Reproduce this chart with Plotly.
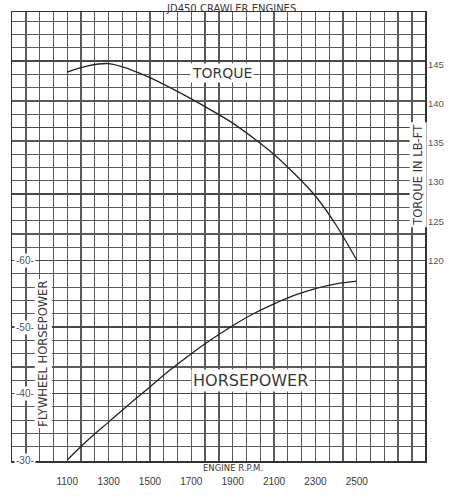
import plotly.graph_objects as go

# ---- data ----
rpm = [1100, 1200, 1300, 1400, 1500, 1600, 1700, 1800, 1900, 2000, 2100, 2200, 2300, 2400, 2500]
torque = [144.0, 144.8, 145.1, 144.4, 143.3, 142.0, 140.6, 139.1, 137.5, 135.6, 133.5, 131.0, 128.2, 124.5, 120.0]
horsepower = [30.0, 33.0, 35.7, 38.4, 41.0, 43.6, 46.0, 48.2, 50.2, 52.0, 53.5, 54.8, 55.8, 56.5, 56.9]

rpm_ticks = [1100, 1300, 1500, 1700, 1900, 2100, 2300, 2500]
hp_ticks = [30, 40, 50, 60]
torque_ticks = [120, 125, 130, 135, 140, 145]

title_text = "JD450 CRAWLER ENGINES"

ink = "#3a3a3a"
grid = "#5a5a5a"
font_family = "Liberation Sans, Arial, sans-serif"
wide_font = "DejaVu Sans, Verdana, sans-serif"

fig = go.Figure()

fig.add_trace(go.Scatter(
    x=rpm, y=horsepower, mode="lines", line=dict(color="#222", width=1.3, shape="spline"),
    yaxis="y", hoverinfo="skip", showlegend=False))
fig.add_trace(go.Scatter(
    x=rpm, y=torque, mode="lines", line=dict(color="#222", width=1.3, shape="spline"),
    yaxis="y2", hoverinfo="skip", showlegend=False))

fig.update_layout(
    width=452, height=497,
    margin=dict(l=12, r=27, t=10, b=24),
    paper_bgcolor="white", plot_bgcolor="white",
    font=dict(family=font_family, color=ink),
    xaxis=dict(
        range=[833, 2830], tickmode="array", tickvals=rpm_ticks,
        ticktext=[str(v) for v in rpm_ticks],
        tickfont=dict(size=10, color=ink), ticks="", ticklabelstandoff=10,
        showgrid=True, gridcolor=grid, gridwidth=1.3,
        minor=dict(tick0=1100, dtick=200 / 3, showgrid=True, gridcolor=grid, gridwidth=1.3),
        showline=True, linecolor="#333", linewidth=1.5, mirror=True, zeroline=False,
        fixedrange=True),
    yaxis=dict(
        range=[29.85, 97.4], tick0=30, dtick=10, showticklabels=False, ticks="",
        showgrid=True, gridcolor="#474747", gridwidth=1.6,
        minor=dict(tick0=30, dtick=2, showgrid=True, gridcolor=grid, gridwidth=1.2),
        showline=True, linecolor="#333", linewidth=1.5, mirror=True, zeroline=False,
        fixedrange=True),
    yaxis2=dict(
        range=[94.38, 151.68], overlaying="y", side="right",
        showticklabels=False, ticks="",
        showgrid=False, zeroline=False, fixedrange=True),
)

ann = []
# title at the very top
ann.append(dict(text=title_text, xref="paper", yref="paper", x=0.53, y=1, yanchor="top",
                yshift=11, showarrow=False, font=dict(size=10, color=ink, family=wide_font)))
# curve labels
ann.append(dict(text="TORQUE", xref="x", yref="y", x=1850, y=88.2, showarrow=False,
                bgcolor="white", font=dict(size=14, color=ink, family=wide_font)))
ann.append(dict(text="HORSEPOWER", xref="x", yref="y", x=1985, y=42.0, showarrow=False,
                bgcolor="white", font=dict(size=16, color=ink, family=wide_font)))
# axis titles
ann.append(dict(text="FLYWHEEL HORSEPOWER", xref="paper", yref="y", x=0.075, y=46.0,
                xanchor="center", textangle=-90, showarrow=False, bgcolor="white",
                font=dict(size=11.5, color=ink, family=wide_font)))
ann.append(dict(text="TORQUE IN LB-FT", xref="paper", yref="y2", x=0.983, y=130.9,
                xanchor="center", textangle=-90, showarrow=False, bgcolor="white",
                font=dict(size=11.5, color=ink, family=wide_font)))
ann.append(dict(text="ENGINE R.P.M.", xref="x", yref="paper", x=1902, y=0, yanchor="top",
                yshift=0, showarrow=False, font=dict(size=8.5, color=ink, family=wide_font)))
# left horsepower tick labels (inside the grid)
for v in hp_ticks:
    ann.append(dict(text="-" + str(v) + "-", xref="paper", yref="y", x=0.004, y=v, xanchor="left",
                    showarrow=False, bgcolor="white", font=dict(size=10, color="#555")))
# right torque tick labels
for v in torque_ticks:
    ann.append(dict(text=str(v), xref="paper", yref="y2", x=1, y=v, xanchor="left",
                    xshift=1, showarrow=False, font=dict(size=9.5, color="#555")))
fig.update_layout(annotations=ann)

fig.write_html("out.html",
               config={"displayModeBar": False, "staticPlot": True},
               post_script="document.body.style.margin='0';document.body.style.overflow='hidden';")
